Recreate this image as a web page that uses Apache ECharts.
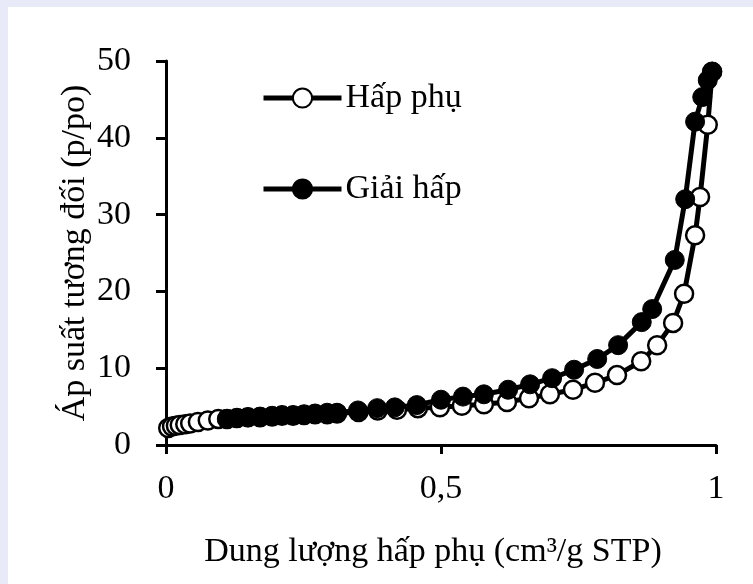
<!DOCTYPE html>
<html>
<head>
<meta charset="utf-8">
<script src="https://cdn.jsdelivr.net/npm/echarts@6/dist/echarts.min.js"></script>
<style>
html,body{margin:0;padding:0;background:#e8ebf7;width:753px;height:584px;overflow:hidden}
#chart{position:absolute;left:8px;top:7px;width:745px;height:577px;background:#fff}
</style>
</head>
<body>
<div id="chart"></div>
<script>
const xTicks = [0, 0.5, 1];
const yTicks = [0, 10, 20, 30, 40, 50];
const seriesNames = ['Hấp phụ', 'Giải hấp'];

const adsX = [0.004, 0.011, 0.018, 0.025, 0.035, 0.044, 0.058, 0.076, 0.095, 0.111, 0.129, 0.149, 0.171, 0.193, 0.211, 0.231, 0.251, 0.271, 0.293, 0.311, 0.35, 0.385, 0.42, 0.458, 0.498, 0.538, 0.578, 0.62, 0.66, 0.698, 0.74, 0.78, 0.82, 0.864, 0.893, 0.922, 0.942, 0.962, 0.971, 0.985, 0.993];
const adsY = [2.2, 2.4, 2.5, 2.6, 2.7, 2.8, 3.0, 3.2, 3.4, 3.4, 3.5, 3.6, 3.6, 3.7, 3.8, 3.8, 3.9, 4.0, 4.0, 4.1, 4.3, 4.5, 4.6, 4.8, 4.9, 5.1, 5.3, 5.6, 6.1, 6.6, 7.2, 8.1, 9.1, 10.9, 13.0, 15.9, 19.7, 27.3, 32.3, 41.7, 48.6];

const desX = [0.111, 0.129, 0.149, 0.171, 0.193, 0.211, 0.231, 0.251, 0.271, 0.293, 0.311, 0.349, 0.384, 0.416, 0.456, 0.5, 0.54, 0.578, 0.622, 0.662, 0.702, 0.742, 0.784, 0.822, 0.865, 0.884, 0.925, 0.944, 0.962, 0.975, 0.985, 0.993];
const desY = [3.4, 3.5, 3.6, 3.7, 3.8, 3.9, 3.9, 4.0, 4.1, 4.2, 4.2, 4.5, 4.8, 4.9, 5.2, 5.9, 6.3, 6.6, 7.2, 7.9, 8.7, 9.8, 11.2, 13.0, 16.0, 17.7, 24.1, 32.0, 42.1, 45.3, 47.5, 48.6];

const zip = (xs, ys) => xs.map((x, i) => [x, ys[i]]);
const FONT = 'Liberation Serif';
const FS = 34;

const chart = echarts.init(document.getElementById('chart'), null, {renderer: 'canvas'});
chart.setOption({
  animation: false,
  backgroundColor: '#ffffff',
  grid: {left: 158, right: 37, top: 54, bottom: 139, containLabel: false},
  legend: {
    data: seriesNames,
    orient: 'vertical',
    left: 248,
    top: 69,
    itemWidth: 78,
    itemHeight: 24,
    itemGap: 57,
    lineStyle: {width: 5, color: '#000'},
    textStyle: {fontFamily: FONT, fontSize: FS, color: '#000', padding: [0, 0, 0, -1]},
    selectedMode: false
  },
  xAxis: {
    type: 'value',
    min: xTicks[0],
    max: xTicks[xTicks.length - 1],
    interval: 0.5,
    name: 'Dung lượng hấp phụ (cm³/g STP)',
    nameLocation: 'middle',
    nameGap: 90,
    nameMoveOverlap: false,
    nameTextStyle: {fontFamily: FONT, fontSize: FS, color: '#000', padding: [0, 16, 0, 0]},
    axisLine: {show: true, onZero: false, lineStyle: {color: '#000', width: 3}},
    axisTick: {show: true, inside: false, length: 9, lineStyle: {color: '#000', width: 3}},
    axisLabel: {fontFamily: FONT, fontSize: FS, color: '#000', margin: 27,
      formatter: v => String(v).replace('.', ',')},
    splitLine: {show: false}
  },
  yAxis: {
    type: 'value',
    min: yTicks[0],
    max: yTicks[yTicks.length - 1],
    interval: 10,
    name: 'Áp suất tương đối (p/po)',
    nameLocation: 'middle',
    nameGap: 74,
    nameMoveOverlap: false,
    nameRotate: 90,
    nameTextStyle: {fontFamily: FONT, fontSize: FS, color: '#000'},
    axisLine: {show: true, onZero: false, lineStyle: {color: '#000', width: 3}},
    axisTick: {show: true, inside: false, length: 10, lineStyle: {color: '#000', width: 3}},
    axisLabel: {fontFamily: FONT, fontSize: FS, color: '#000', margin: 35},
    splitLine: {show: false}
  },
  series: [
    {
      name: seriesNames[0],
      type: 'line',
      data: zip(adsX, adsY),
      symbol: 'circle',
      symbolSize: 18,
      showAllSymbol: true,
      lineStyle: {color: '#000', width: 5},
      itemStyle: {color: '#fff', borderColor: '#000', borderWidth: 2.5},
      z: 2
    },
    {
      name: seriesNames[1],
      type: 'line',
      data: zip(desX, desY),
      symbol: 'circle',
      symbolSize: 19,
      showAllSymbol: true,
      lineStyle: {color: '#000', width: 5},
      itemStyle: {color: '#000', borderColor: '#000', borderWidth: 1},
      z: 3
    }
  ]
});
</script>
</body>
</html>
